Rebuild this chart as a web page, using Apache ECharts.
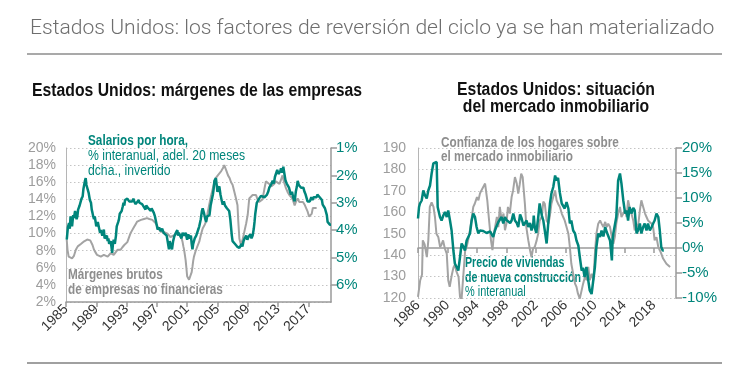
<!DOCTYPE html>
<html>
<head>
<meta charset="utf-8">
<script src="https://cdn.jsdelivr.net/npm/echarts@6/dist/echarts.min.js"></script>
<style>
html,body{margin:0;padding:0;background:#fff;}
#c{width:753px;height:370px;}
</style>
</head>
<body>
<div id="c"></div>
<script>
// ---------- Left chart: wages (right axis, inverted) ----------
const wageYears = [1985.1,1985.25,1985.4,1985.5,1985.6,1985.7,1985.8,1985.95,1986.05,1986.2,1986.3,1986.4,1986.5,1986.6,1986.7,1986.8,1986.9,1987.05,1987.2,1987.3,1987.4,1987.5,1987.6,1987.7,1987.8,1987.9,1988.0,1988.15,1988.3,1988.4,1988.5,1988.6,1988.7,1988.8,1988.9,1989.0,1989.1,1989.2,1989.35,1989.5,1989.6,1989.8,1989.9,1990.0,1990.1,1990.25,1990.4,1990.5,1990.6,1990.7,1990.9,1991.0,1991.1,1991.2,1991.3,1991.45,1991.6,1991.7,1991.8,1991.9,1992.0,1992.1,1992.2,1992.35,1992.5,1992.6,1992.7,1992.8,1992.9,1993.1,1993.2,1993.35,1993.5,1993.6,1993.75,1993.9,1994.0,1994.2,1994.4,1994.6,1994.7,1994.9,1995.05,1995.2,1995.3,1995.5,1995.6,1995.7,1995.85,1996.0,1996.2,1996.3,1996.4,1996.6,1996.75,1996.9,1997.1,1997.3,1997.5,1997.7,1997.9,1998.1,1998.3,1998.45,1998.6,1998.7,1998.8,1998.9,1999.0,1999.15,1999.3,1999.5,1999.7,1999.8,1999.9,2000.1,2000.25,2000.4,2000.6,2000.8,2001.0,2001.15,2001.3,2001.5,2001.6,2001.7,2001.8,2001.9,2002.0,2002.1,2002.2,2002.35,2002.5,2002.6,2002.8,2002.95,2003.05,2003.2,2003.3,2003.4,2003.5,2003.65,2003.8,2003.95,2004.1,2004.25,2004.4,2004.5,2004.6,2004.7,2004.8,2004.9,2005.0,2005.1,2005.25,2005.4,2005.55,2005.7,2005.85,2006.0,2006.1,2006.25,2006.4,2006.55,2006.7,2006.8,2006.9,2007.0,2007.15,2007.3,2007.45,2007.6,2007.75,2007.9,2008.05,2008.2,2008.3,2008.45,2008.6,2008.8,2008.95,2009.1,2009.2,2009.35,2009.5,2009.65,2009.8,2009.9,2010.0,2010.1,2010.2,2010.35,2010.5,2010.6,2010.75,2010.9,2011.0,2011.2,2011.4,2011.55,2011.7,2011.85,2012.0,2012.15,2012.3,2012.45,2012.6,2012.7,2012.8,2012.9,2013.05,2013.2,2013.3,2013.4,2013.55,2013.7,2013.85,2014.0,2014.15,2014.3,2014.45,2014.6,2014.7,2014.85,2015.0,2015.2,2015.35,2015.5,2015.6,2015.75,2015.9,2016.05,2016.2,2016.35,2016.5,2016.65,2016.8,2016.9,2017.05,2017.2,2017.4,2017.55,2017.7,2017.8,2017.95,2018.1,2018.2,2018.35,2018.5,2018.7,2018.8,2018.9,2019.05,2019.2,2019.3,2019.45,2019.55,2019.7,2019.85,2020.0];
const wageValues = [4.35,3.9,3.74,3.95,3.5,3.7,3.86,3.45,3.55,3.3,3.3,3.6,3.5,3.25,3.3,3.1,3.15,2.85,2.77,2.5,2.47,2.2,2.1,2.35,2.3,2.55,2.65,2.9,3.0,3.25,3.37,3.5,3.6,3.5,3.55,3.86,3.8,3.7,3.9,4.1,4.0,4.2,4.15,3.98,4.3,4.35,4.2,4.4,4.3,4.5,4.4,4.6,4.83,4.5,4.35,4.5,4.2,3.86,3.9,3.7,3.6,3.4,3.37,3.3,3.13,3.0,3.1,2.9,2.95,2.85,2.9,2.95,3.0,2.9,2.95,2.85,2.95,3.05,3.0,2.9,3.0,2.95,3.05,3.0,3.1,3.25,3.1,3.05,3.2,3.15,3.3,3.2,3.25,3.37,3.5,3.7,3.98,3.9,4.03,3.95,4.1,4.05,4.2,4.15,4.7,4.4,4.47,4.6,4.7,4.4,4.23,4.1,4.0,4.2,4.1,4.04,4.3,4.1,4.2,4.1,4.35,4.15,4.3,4.2,4.5,4.7,4.5,4.45,4.3,4.35,4.2,4.16,3.95,3.86,3.6,3.3,3.2,3.35,3.4,3.6,3.7,3.5,3.55,3.45,3.1,2.9,2.7,2.5,2.2,2.15,2.1,2.35,2.6,2.5,2.4,2.7,2.9,3.07,2.95,3.1,3.07,3.2,3.15,3.3,3.6,3.9,4.2,4.4,4.35,4.5,4.5,4.6,4.55,4.65,4.6,4.5,4.6,4.4,4.3,4.2,4.35,4.25,4.3,4.15,4.3,4.2,3.95,3.7,3.4,3.2,3.0,2.95,2.85,2.9,2.75,2.8,2.7,2.8,2.85,2.7,2.6,2.45,2.5,2.3,2.2,2.3,2.05,1.98,2.1,1.8,1.95,2.0,1.85,1.74,1.9,1.68,1.95,2.2,2.3,2.25,2.45,2.6,2.7,2.6,2.8,2.95,2.6,2.4,2.2,2.35,2.3,2.45,2.5,2.45,2.6,2.7,2.85,2.95,2.9,2.95,2.8,2.9,2.8,2.85,2.75,2.8,2.7,2.75,2.8,2.75,2.9,3.07,3.1,3.2,3.25,3.45,3.7,3.75,3.8,3.8];

// ---------- Left chart: gross margins (left axis) ----------
const marginYears = [1985.1,1985.2,1985.35,1985.6,1985.8,1986.05,1986.3,1986.55,1986.7,1987.0,1987.2,1987.4,1987.6,1987.8,1988.0,1988.2,1988.35,1988.5,1988.7,1988.9,1989.1,1989.35,1989.6,1989.8,1990.0,1990.25,1990.5,1990.7,1990.9,1991.1,1991.3,1991.55,1991.8,1992.0,1992.2,1992.45,1992.7,1992.9,1993.1,1993.3,1993.5,1993.75,1994.0,1994.2,1994.4,1994.65,1994.9,1995.1,1995.3,1995.5,1995.7,1996.0,1996.2,1996.4,1996.6,1996.85,1997.1,1997.3,1997.5,1997.7,1997.9,1998.15,1998.4,1998.6,1998.8,1999.05,1999.3,1999.5,1999.7,1999.9,2000.1,2000.25,2000.4,2000.5,2000.6,2000.7,2000.8,2000.9,2001.0,2001.1,2001.25,2001.4,2001.5,2001.6,2001.7,2001.8,2001.9,2002.1,2002.35,2002.6,2002.8,2003.05,2003.3,2003.5,2003.7,2003.9,2004.1,2004.4,2004.6,2004.8,2005.05,2005.25,2005.5,2005.7,2005.9,2006.0,2006.2,2006.4,2006.6,2006.8,2007.0,2007.2,2007.45,2007.65,2007.75,2007.9,2008.1,2008.3,2008.55,2008.8,2009.0,2009.2,2009.45,2009.65,2009.9,2010.1,2010.3,2010.5,2010.75,2010.95,2011.2,2011.4,2011.6,2011.85,2012.1,2012.3,2012.5,2012.7,2012.95,2013.2,2013.4,2013.6,2013.8,2014.05,2014.3,2014.5,2014.7,2014.9,2015.05,2015.2,2015.4,2015.6,2015.8,2016.05,2016.3,2016.5,2016.7,2016.9,2017.1,2017.3,2017.45,2017.6,2017.8,2018.0,2018.1];
const marginValues = [9.25,8.1,7.3,7.1,7.1,7.4,8.1,8.5,8.66,8.8,9.0,9.1,9.25,9.3,9.45,9.2,9.3,8.66,8.1,7.8,7.5,7.4,7.3,7.4,7.5,7.3,7.3,7.5,7.7,7.5,7.5,7.8,8.1,8.0,8.1,8.4,8.66,8.8,9.0,9.5,10.0,10.4,10.8,11.1,11.4,11.5,11.6,11.55,11.7,11.6,11.8,11.7,11.8,11.6,11.7,11.2,10.8,10.5,10.2,10.3,10.2,10.0,10.0,9.8,9.6,9.7,9.8,10.0,10.2,10.0,9.8,9.5,9.0,8.5,8.1,7.5,6.9,6.0,5.0,4.8,4.6,4.6,4.8,5.5,6.1,6.8,7.3,7.9,8.5,9.05,9.8,10.6,11.0,11.4,12.4,13.3,14.2,15.3,16.0,16.5,16.8,17.0,17.3,17.6,18.0,18.0,17.3,16.8,16.5,16.0,15.7,15.0,14.1,13.3,11.5,9.4,8.7,9.2,10.2,11.2,12.2,14.1,14.3,14.5,14.4,14.5,14.0,13.7,13.8,14.0,15.2,16.1,16.0,15.8,15.5,15.6,15.8,16.1,15.9,15.8,16.3,16.8,16.0,15.3,14.8,14.5,14.3,14.1,13.7,13.3,13.8,14.1,13.7,13.8,13.7,13.4,13.0,12.6,12.0,11.9,12.3,13.0,13.0,13.0,13.0];

// ---------- Right chart: new home prices (right axis) ----------
const priceYears = [1986.0,1986.14,1986.27,1986.5,1986.72,1986.95,1987.18,1987.4,1987.63,1987.85,1988.08,1988.3,1988.53,1988.67,1988.98,1989.2,1989.43,1989.66,1989.9,1990.1,1990.34,1990.56,1990.8,1991.0,1991.24,1991.47,1991.7,1991.92,1992.15,1992.37,1992.6,1992.8,1993.05,1993.28,1993.5,1993.73,1993.95,1994.18,1994.4,1994.63,1994.85,1995.08,1995.3,1995.54,1995.8,1996.0,1996.2,1996.44,1996.7,1996.9,1997.1,1997.34,1997.57,1997.8,1998.0,1998.25,1998.5,1998.7,1998.93,1999.15,1999.4,1999.6,1999.85,2000.06,2000.3,2000.5,2000.73,2000.96,2001.2,2001.4,2001.64,2001.7,2001.85,2002.05,2002.3,2002.5,2002.8,2003.0,2003.2,2003.45,2003.7,2003.9,2004.1,2004.35,2004.6,2004.8,2005.0,2005.25,2005.5,2005.7,2005.9,2006.15,2006.4,2006.6,2006.8,2007.05,2007.3,2007.5,2007.75,2007.95,2008.2,2008.4,2008.6,2008.85,2009.1,2009.3,2009.55,2009.8,2010.0,2010.2,2010.45,2010.7,2010.9,2011.15,2011.4,2011.6,2011.8,2012.05,2012.3,2012.4,2012.5,2012.7,2012.9,2013.15,2013.4,2013.6,2013.85,2014.1,2014.3,2014.5,2014.7,2014.95,2015.2,2015.4,2015.65,2015.85,2016.1,2016.3,2016.55,2016.75,2017.0,2017.2,2017.45,2017.7,2017.9,2018.1,2018.35,2018.6,2018.8,2019.0,2019.2,2019.35];
const priceValues = [5.9,8.2,8.9,9.5,11.5,10.5,9.9,11.5,12.5,14.9,16.9,17.2,17.2,8.2,6.2,5.5,6.5,7.2,6.2,7.5,5.5,3.5,-0.5,-3.1,-3.8,-4.5,-1.8,0.9,0.3,-0.5,1.5,1.2,2.9,5.5,6.9,6.2,4.2,2.9,3.5,3.2,3.4,3.5,3.0,3.2,3.3,2.9,2.2,3.5,4.5,5.2,4.9,6.2,4.9,6.2,5.6,5.2,5.0,5.5,6.9,5.5,5.0,4.2,6.7,5.9,4.5,4.2,5.5,4.2,5.0,3.5,4.9,6.5,4.0,3.0,6.0,8.9,6.5,5.5,3.5,0.9,5.5,8.9,10.9,12.2,14.5,13.5,14.0,11.0,8.9,9.2,7.9,9.2,7.9,4.9,5.5,3.5,2.9,1.5,0.5,-1.8,-4.5,-4.0,-5.8,-3.8,-6.5,-8.5,-9.2,-9.5,-3.8,0.2,2.9,2.2,3.5,2.3,4.2,3.2,3.5,1.5,-2.5,1.5,2.9,2.9,6.2,13.5,14.9,12.9,9.5,6.9,7.5,5.5,8.2,6.9,8.0,7.5,2.9,3.5,4.9,2.9,4.2,4.9,3.5,4.9,3.5,4.2,4.9,5.5,6.9,6.2,3.5,0.2,-0.5,-0.5];

// ---------- Right chart: household confidence (left axis) ----------
const confYears = [1986.0,1986.3,1986.45,1986.55,1986.65,1986.9,1987.2,1987.4,1987.6,1987.85,1988.1,1988.3,1988.5,1988.75,1989.0,1989.2,1989.4,1989.65,1989.9,1990.1,1990.3,1990.6,1990.8,1991.0,1991.2,1991.5,1991.7,1991.9,1992.1,1992.4,1992.6,1992.8,1993.05,1993.3,1993.5,1993.7,1994.0,1994.2,1994.4,1994.6,1994.85,1995.1,1995.25,1995.4,1995.6,1995.9,1996.1,1996.3,1996.5,1996.7,1996.9,1997.1,1997.35,1997.6,1997.8,1998.0,1998.2,1998.45,1998.7,1998.9,1999.15,1999.4,1999.6,1999.8,2000.0,2000.2,2000.5,2000.7,2000.96,2001.2,2001.4,2001.6,2001.86,2002.1,2002.3,2002.5,2002.8,2003.0,2003.2,2003.45,2003.7,2003.9,2004.1,2004.35,2004.6,2004.8,2005.0,2005.25,2005.5,2005.7,2005.9,2006.15,2006.4,2006.6,2006.8,2007.05,2007.3,2007.5,2007.7,2007.95,2008.2,2008.4,2008.65,2008.9,2009.1,2009.3,2009.55,2009.8,2010.0,2010.2,2010.45,2010.7,2010.9,2011.15,2011.4,2011.6,2011.8,2012.05,2012.3,2012.5,2012.7,2012.9,2013.15,2013.4,2013.6,2013.85,2014.1,2014.3,2014.5,2014.7,2014.95,2015.2,2015.4,2015.65,2015.9,2016.1,2016.3,2016.55,2016.8,2017.0,2017.2,2017.45,2017.7,2017.9,2018.1,2018.35,2018.6,2018.8,2019.0,2019.25,2019.5,2019.7,2019.9,2020.2];
const confValues = [120.5,128.3,129,131,146.9,145,139.1,146.9,162.5,164.6,162.5,157.8,150.0,148.5,143.8,145,146.9,143,140.7,128.3,125.2,131,134.1,135.5,132.5,129.9,120.5,119,128.3,142.3,143.8,146.9,151.6,157.8,162.5,164,167.1,165.6,168.7,170.2,171.8,173.4,174,165.6,157.8,146.9,142.3,150,150,157.8,153.1,162.5,156.2,159.4,151.6,154.7,162.5,159.4,167.1,170.2,176.4,173.4,168.7,173,178,176.4,164,153,147,142.3,139.1,143,144,146.9,150,156,158,165,164,156.2,154.7,158.5,164,167.1,170.2,165.6,164,162.5,159.4,157.8,156.2,153.1,150,143.8,136,131.3,126.7,125.2,122,119.7,120.5,126.7,129.9,128.3,134.5,128.3,131.3,128.3,140.7,150,154.7,156.2,154.7,153.1,155.5,153.1,154.7,153.1,148.4,145.3,148.4,154.7,159.4,162.5,157.8,159.4,161,157.8,165.6,162.5,159.4,156.2,151.6,153.1,154.7,161,165.6,162.5,159.4,157.8,156.2,156.2,154.7,153.1,146.9,148.4,143.8,142.3,140.7,138.4,137.6,136,135.3,134.5];

// ---------- Tick labels ----------
const leftYearTicks = [1985,1989,1993,1997,2001,2005,2009,2013,2017];
const rightYearTicks = [1986,1990,1994,1998,2002,2006,2010,2014,2018];
const wageTicks = [1,2,3,4,5,6];

const TEAL = '#00857b';
const GRAYLINE = '#a3a3a3';
const LABELGRAY = '#9d9d9d';
const FONT = "'Liberation Sans', Arial, sans-serif";
const BOLD_SX = 0.84;   // horizontal squeeze to imitate a condensed face
const REG_SX = 0.87;

function pairs(xs, ys){ return xs.map((x,i)=>[x, ys[i]]); }

const chart = echarts.init(document.getElementById('c'), null, {renderer:'canvas'});

function xAxisCfg(gridIndex, min, max, ticks){
  return {
    type:'value', gridIndex, min, max,
    axisLine:{show:true, lineStyle:{color:'#9a9a9a', width:1.5}},
    axisTick:{show:true, length:5, lineStyle:{color:'#9a9a9a', width:1.5}, customValues: ticks},
    axisLabel:{rotate:45, color:'#333', fontSize:14, fontFamily:FONT, margin:5, customValues: ticks, formatter: v=>String(v)},
    splitLine:{show:false}
  };
}

function txt(x, y, text, weight, size, fill, sx, extra){
  return {
    type:'text', x, y, scaleX:sx,
    style:Object.assign({text, font: weight+' '+size+'px '+FONT, fill}, extra || {})
  };
}

const option = {
  animation:false,
  textStyle:{fontFamily:FONT},
  grid:[
    {left:66, top:148, width:265, height:154},
    {left:418, top:148, width:258, height:150}
  ],
  xAxis:[
    xAxisCfg(0, 1985, 2020, leftYearTicks),
    xAxisCfg(1, 1986, 2021, rightYearTicks)
  ],
  yAxis:[
    { // left chart, margins
      type:'value', gridIndex:0, min:2, max:20, interval:2, position:'left',
      axisLine:{show:true, lineStyle:{color:'#b5b5b5', width:1}},
      axisTick:{show:false},
      axisLabel:{color:LABELGRAY, fontSize:14, fontFamily:FONT, margin:10, formatter:v=>v+'%'},
      splitLine:{show:true, lineStyle:{color:'#c4c4c4', type:[1.5,2.5], width:1}}
    },
    { // left chart, wages inverted
      type:'value', gridIndex:0, min:1, max:6.625, inverse:true, position:'right',
      axisLine:{show:true, lineStyle:{color:'#9a9a9a', width:1.5}},
      axisTick:{show:true, length:6, customValues: wageTicks, lineStyle:{color:'#9a9a9a', width:1.5}},
      axisLabel:{color:TEAL, fontSize:15, fontFamily:FONT, margin:5, customValues: wageTicks, formatter:v=>v+'%'},
      splitLine:{show:false}
    },
    { // right chart, confidence
      type:'value', gridIndex:1, min:120, max:190, interval:10, position:'left',
      axisLine:{show:true, lineStyle:{color:'#b5b5b5', width:1}},
      axisTick:{show:false},
      axisLabel:{color:LABELGRAY, fontSize:14, fontFamily:FONT, margin:12},
      splitLine:{show:true, lineStyle:{color:'#c4c4c4', type:[1.5,2.5], width:1}}
    },
    { // right chart, prices
      type:'value', gridIndex:1, min:-10, max:20, interval:5, position:'right',
      axisLine:{show:true, lineStyle:{color:'#9a9a9a', width:1.5}},
      axisTick:{show:true, length:6, lineStyle:{color:'#9a9a9a', width:1.5}},
      axisLabel:{color:TEAL, fontSize:15, fontFamily:FONT, margin:6, formatter:v=>v+'%'},
      splitLine:{show:false}
    }
  ],
  series:[
    {type:'line', xAxisIndex:0, yAxisIndex:0, data:pairs(marginYears, marginValues), showSymbol:false, lineStyle:{color:GRAYLINE, width:2}, z:2},
    {type:'line', xAxisIndex:0, yAxisIndex:1, data:pairs(wageYears, wageValues), showSymbol:false, lineStyle:{color:TEAL, width:2.5}, z:3},
    {type:'line', xAxisIndex:1, yAxisIndex:2, data:pairs(confYears, confValues), showSymbol:false, lineStyle:{color:GRAYLINE, width:2}, z:2},
    {type:'line', xAxisIndex:1, yAxisIndex:3, data:pairs(priceYears, priceValues), showSymbol:false, lineStyle:{color:TEAL, width:2.5}, z:3}
  ],
  graphic:[
    {type:'text', x:30, y:19, scaleX:1.055, style:{text:'Estados Unidos: los factores de reversión del ciclo ya se han materializado', font:"300 20px Roboto, 'Liberation Sans', sans-serif", fill:'#6e6e6e'}},
    {type:'line', shape:{x1:27, y1:54, x2:722, y2:54}, style:{stroke:'#8c8c8c', lineWidth:1.3}},
    {type:'line', shape:{x1:27, y1:363, x2:722, y2:363}, style:{stroke:'#a0a0a0', lineWidth:2}},
    txt(32, 82, 'Estados Unidos: márgenes de las empresas', 'bold', 17.5, '#111', 0.9),
    txt(556, 82, 'Estados Unidos: situación\ndel mercado inmobiliario', 'bold', 17.5, '#111', 0.9, {textAlign:'center', lineHeight:17}),
    txt(88, 134, 'Salarios por hora,', 'bold', 14, TEAL, BOLD_SX),
    txt(88, 149, '% interanual, adel. 20 meses\ndcha., invertido', 'normal', 14, TEAL, REG_SX, {lineHeight:14.5}),
    txt(68, 268, 'Márgenes brutos\nde empresas no financieras', 'bold', 14, '#8e8e8e', BOLD_SX, {lineHeight:15}),
    txt(441, 136, 'Confianza de los hogares sobre\nel mercado inmobiliario', 'bold', 14, '#8e8e8e', BOLD_SX, {lineHeight:14}),
    txt(465, 256, 'Precio de viviendas\nde nueva construcción', 'bold', 14, TEAL, 0.76, {lineHeight:14.5}),
    txt(465, 285, '% interanual', 'normal', 14, TEAL, 0.78)
  ]
};
chart.setOption(option);
</script>
</body>
</html>
